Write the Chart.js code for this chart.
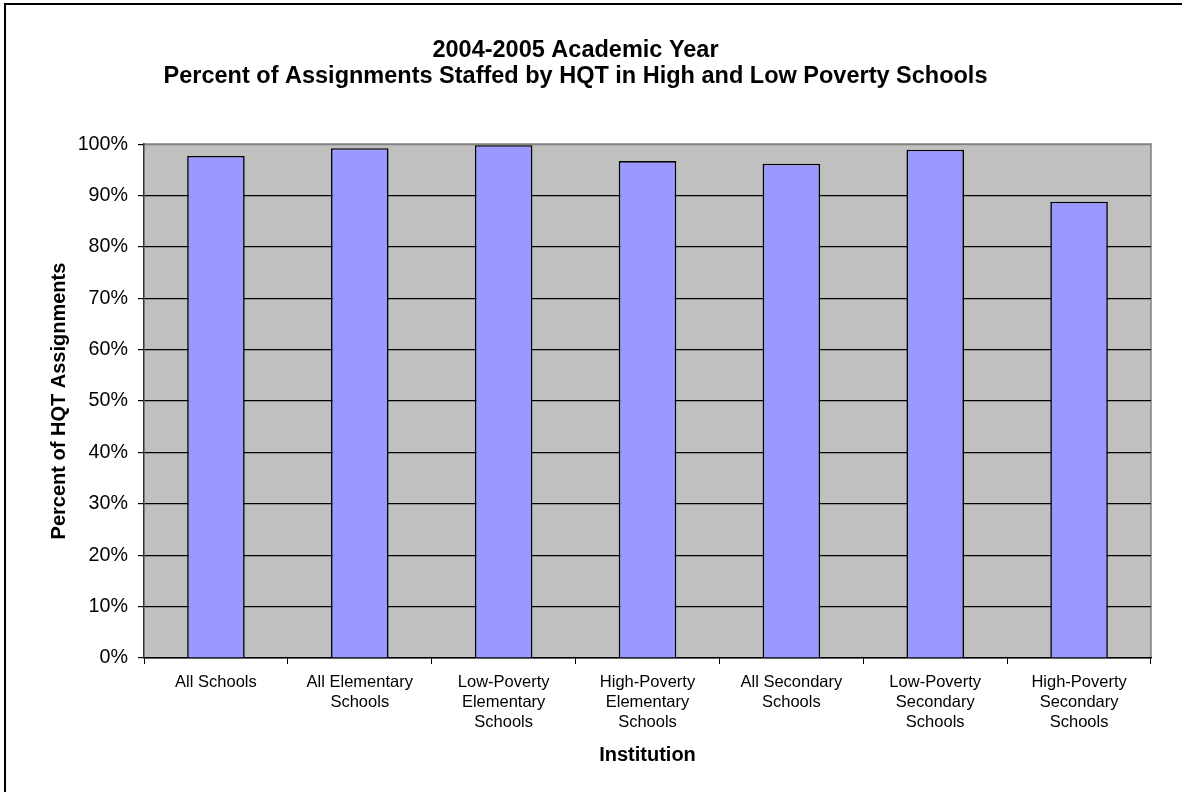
<!DOCTYPE html>
<html>
<head>
<meta charset="utf-8">
<script src="https://cdn.jsdelivr.net/npm/chart.js@4/dist/chart.umd.min.js"></script>
<style>
	html, body { margin: 0; padding: 0; background: #ffffff; }
	#wrap { width: 1182px; height: 792px; }
</style>
</head>
<body>
<div id="wrap"><canvas id="bar"></canvas></div>
<script>
// categories (multi-line labels as in the picture)
const institutions = [
	['All Schools'],
	['All Elementary', 'Schools'],
	['Low-Poverty', 'Elementary', 'Schools'],
	['High-Poverty', 'Elementary', 'Schools'],
	['All Secondary', 'Schools'],
	['Low-Poverty', 'Secondary', 'Schools'],
	['High-Poverty', 'Secondary', 'Schools'],
];
// percent of HQT assignments
const hqt_percent = [97.7, 99.2, 99.8, 96.7, 96.2, 98.9, 88.8];
const y_ticks = [0, 10, 20, 30, 40, 50, 60, 70, 80, 90, 100];

const font_family = 'Arial, "Liberation Sans", sans-serif';

// gray plot background, plot border and the frame on top/left
const background = {
	id: 'background',
	beforeDraw(chart) {
		const ctx = chart.ctx;
		const a = chart.chartArea;
		ctx.save();
		ctx.fillStyle = '#c0c0c0';
		ctx.fillRect(a.left, a.top, a.right - a.left, a.bottom - a.top);
		ctx.strokeStyle = '#808080';
		ctx.lineWidth = 1.5;
		ctx.beginPath();
		ctx.moveTo(a.left, a.top);
		ctx.lineTo(a.right, a.top);
		ctx.lineTo(a.right, a.bottom);
		ctx.stroke();
		ctx.restore();
	},
	afterDraw(chart) {
		const ctx = chart.ctx;
		ctx.save();
		ctx.fillStyle = '#000000';
		ctx.fillRect(4, 3, chart.width, 2);
		ctx.fillRect(4, 3, 2, chart.height);
		ctx.restore();
	},
};

const config_bar = {
	type: 'bar',
	data: {
		labels: institutions,
		datasets: [
			{
				label: 'HQT',
				data: hqt_percent,
				backgroundColor: '#9999ff',
				borderColor: '#000000',
				borderWidth: 1.6,
				barPercentage: 0.4,
				categoryPercentage: 1.0,
			},
		],
	},
	options: {
		maintainAspectRatio: false,
		responsive: true,
		animation: false,
		layout: {
			padding: { left: 0, right: 31, top: 0, bottom: 0 },
		},
		plugins: {
			legend: { display: false },
			tooltip: { enabled: false },
			title: {
				display: true,
				text: ['2004-2005 Academic Year', 'Percent of Assignments Staffed by HQT in High and Low Poverty Schools'],
				color: '#000000',
				font: { family: font_family, size: 23.5, weight: 'bold', lineHeight: 1.13 },
				padding: { top: 37, bottom: 54 },
			},
		},
		scales: {
			x: {
				offset: true,
				afterFit: (axis) => { axis.height = 134; },
				grid: {
					display: true,
					offset: true,
					drawOnChartArea: false,
					color: '#000000',
					tickLength: 6,
				},
				border: { color: '#000000', width: 1.5 },
				ticks: {
					color: '#000000',
					maxRotation: 0,
					autoSkip: false,
					padding: 8,
					font: { family: font_family, size: 16.5, lineHeight: 1.22 },
				},
				title: {
					display: true,
					text: 'Institution',
					color: '#000000',
					font: { family: font_family, size: 20, weight: 'bold' },
					padding: { top: 0, bottom: 25 },
				},
			},
			y: {
				min: 0,
				max: 100,
				afterFit: (axis) => { axis.width = 144; },
				afterBuildTicks: (axis) => {
					axis.ticks = y_ticks.map((v) => ({ value: v }));
				},
				grid: {
					color: (c) => (c.tick && c.tick.value === 100 ? '#808080' : '#000000'),
					tickColor: '#000000',
					lineWidth: 1.2,
					tickLength: 6,
				},
				border: { color: '#333333', width: 1.5 },
				ticks: {
					color: '#000000',
					padding: 10,
					callback: (v) => v + '%',
					font: { family: font_family, size: 19.7 },
				},
				title: {
					display: true,
					text: 'Percent of HQT Assignments',
					color: '#000000',
					font: { family: font_family, size: 20, weight: 'bold' },
					padding: { top: 47, bottom: 0 },
				},
			},
		},
	},
	plugins: [background],
};

const myBar = new Chart(document.getElementById('bar'), config_bar);
</script>
</body>
</html>
